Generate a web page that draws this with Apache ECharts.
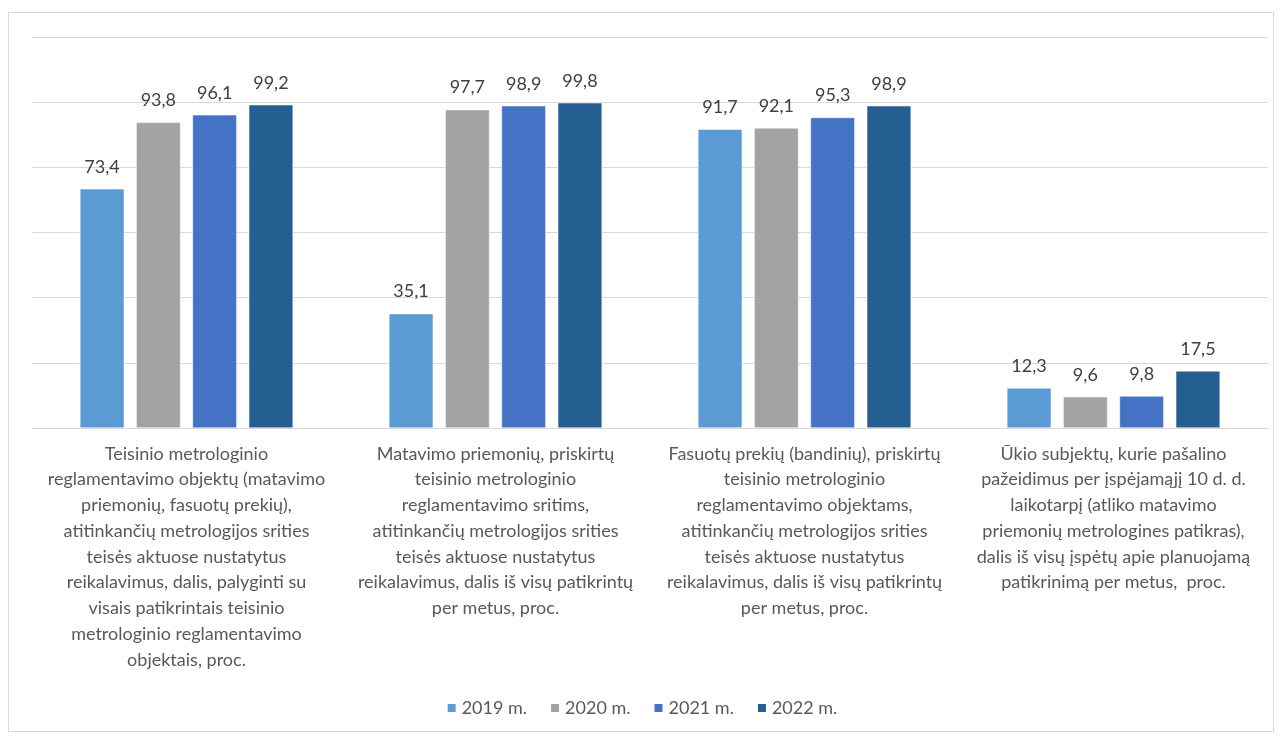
<!DOCTYPE html>
<html><head><meta charset="utf-8">
<script src="https://cdn.jsdelivr.net/npm/echarts@6/dist/echarts.min.js"></script>
<style>
html,body{margin:0;padding:0;background:#fff;}
#frame{position:absolute;left:8px;top:12px;width:1266px;height:720px;border:1px solid #d9d9d9;box-sizing:border-box;}
#c{position:absolute;left:0;top:0;width:1283px;height:736px;}
</style></head>
<body><div id="frame"></div><div id="c"></div>
<script>
const categories = [
 "Teisinio metrologinio\nreglamentavimo objektų (matavimo\npriemonių, fasuotų prekių),\natitinkančių metrologijos srities\nteisės aktuose nustatytus\nreikalavimus, dalis, palyginti su\nvisais patikrintais teisinio\nmetrologinio reglamentavimo\nobjektais, proc.",
 "Matavimo priemonių, priskirtų\nteisinio metrologinio\nreglamentavimo sritims,\natitinkančių metrologijos srities\nteisės aktuose nustatytus\nreikalavimus, dalis iš visų patikrintų\nper metus, proc.",
 "Fasuotų prekių (bandinių), priskirtų\nteisinio metrologinio\nreglamentavimo objektams,\natitinkančių metrologijos srities\nteisės aktuose nustatytus\nreikalavimus, dalis iš visų patikrintų\nper metus, proc.",
 "Ūkio subjektų, kurie pašalino\npažeidimus per įspėjamąjį 10 d. d.\nlaikotarpį (atliko matavimo\npriemonių metrologines patikras),\ndalis iš visų įspėtų apie planuojamą\npatikrinimą per metus,  proc."
];
const seriesNames = ["2019 m.", "2020 m.", "2021 m.", "2022 m."];
const v2019 = [73.4, 35.1, 91.7, 12.3];
const v2020 = [93.8, 97.7, 92.1, 9.6];
const v2021 = [96.1, 98.9, 95.3, 9.8];
const v2022 = [99.2, 99.8, 98.9, 17.5];
const colors = ["#5B9BD5", "#A3A3A3", "#4472C4", "#255E91"];

const chart = echarts.init(document.getElementById('c'));
const FONT = 'Lato';
const data = [v2019, v2020, v2021, v2022];
chart.setOption({
  animation: false,
  textStyle: {fontFamily: FONT},
  grid: {left: 32, right: 15, top: 37, bottom: 308, containLabel: false},
  legend: {
    bottom: 14, left: 'center', itemWidth: 10, itemHeight: 10, itemGap: 22,
    icon: 'rect',
    textStyle: {fontSize: 18, color: '#595959', fontFamily: FONT},
    data: seriesNames
  },
  xAxis: {
    type: 'category', data: categories,
    axisLine: {lineStyle: {color: '#d9d9d9'}},
    axisTick: {show: false},
    axisLabel: {interval: 0, fontSize: 18, color: '#595959', lineHeight: 25.75, margin: 13, fontFamily: FONT}
  },
  yAxis: {
    type: 'value', min: 0, max: 120, interval: 20,
    axisLabel: {show: false}, axisLine: {show: false}, axisTick: {show: false},
    splitLine: {lineStyle: {color: '#d9d9d9'}}
  },
  series: data.map((d, i) => ({
    name: seriesNames[i], type: 'bar', data: d,
    barGap: '27%', barCategoryGap: '31%',
    itemStyle: {color: colors[i], borderColor: '#ffffff', borderWidth: 0.5},
    label: {show: true, position: 'top', distance: 13, fontSize: 18, color: '#404040', fontFamily: FONT,
      formatter: p => String(p.value).replace('.', ',')}
  }))
});
</script></body></html>
